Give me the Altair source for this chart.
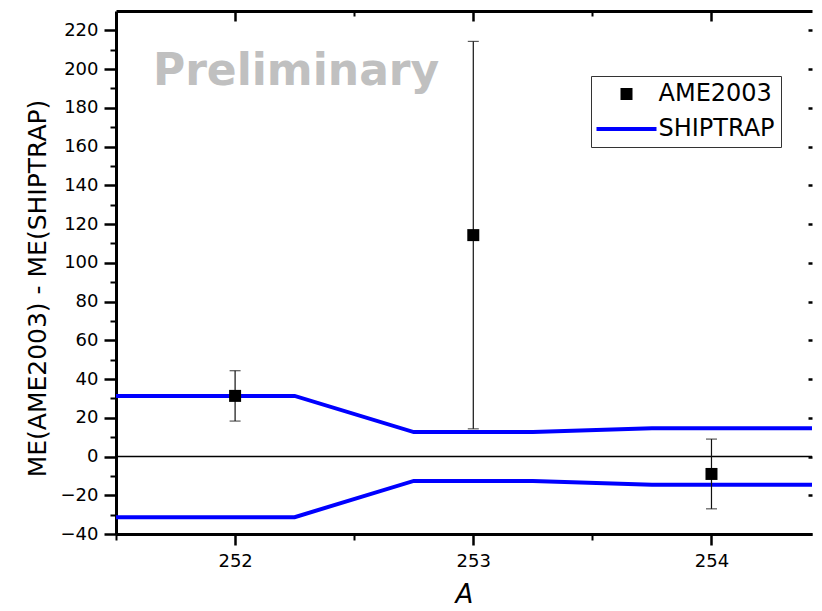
import altair as alt
import pandas as pd

# ---------------- data ----------------
ame_A = [252, 253, 254]
ame_value = [31.3, 114.3, -9.0]
ame_error = [13.0, 100.0, 18.0]

ship_A = [251.5, 252.25, 252.75, 253.25, 253.75, 254.5]
ship_unc = [31.3, 31.3, 12.6, 12.6, 14.6, 14.6]

zero_level = [0]

x_domain = [251.5, 254.422]
y_domain = [-40, 230]
x_major = [252, 253, 254]
x_minor = [251.5, 252.5, 253.5]
x_top_minor = [252.5, 253.5]
y_major = list(range(-40, 221, 20))
y_minor = list(range(-30, 211, 20))

series_names = ["AME2003", "SHIPTRAP"]
series_colors = ["black", "blue"]

watermark_text = ["Preliminary"]
watermark_A = [251.655]
watermark_y = [192]

# ---------------- tables ----------------
pts = pd.DataFrame({
    "A": ame_A,
    "value": ame_value,
    "lo": [v - e for v, e in zip(ame_value, ame_error)],
    "hi": [v + e for v, e in zip(ame_value, ame_error)],
    "series": ["AME2003"] * len(ame_A),
})
caps = pd.DataFrame({
    "A": ame_A + ame_A,
    "cap": list(pts["lo"]) + list(pts["hi"]),
})
band = pd.DataFrame({
    "A": ship_A + ship_A,
    "y": ship_unc + [-u for u in ship_unc],
    "band": ["upper"] * len(ship_A) + ["lower"] * len(ship_A),
})
zero_df = pd.DataFrame({"y": zero_level})
wm = pd.DataFrame({"A": watermark_A, "y": watermark_y, "label": watermark_text})

W, H = 696, 523
FONT = "DejaVu Sans"

xs = alt.Scale(domain=x_domain, nice=False, zero=False)
ys = alt.Scale(domain=y_domain, nice=False, zero=False)

common = dict(grid=False, tickColor="black", domainColor="black")

ax_y_major = alt.Axis(
    orient="left", values=y_major, tickSize=12, tickWidth=2.5, domainWidth=3,
    labelFont=FONT, labelFontSize=18, labelColor="black", labelPadding=6,
    title="ME(AME2003) - ME(SHIPTRAP)", titleFont=FONT, titleFontSize=25,
    titleFontWeight="normal", titleColor="black", titlePadding=10, titleY=277,
    **common)
ax_y_minor = alt.Axis(orient="left", values=y_minor, tickSize=6, tickWidth=2,
                      domain=False, labels=False, title=None, **common)
ax_y_right = alt.Axis(orient="left", offset=-W, values=y_major, tickSize=4,
                      tickWidth=2.5, domain=False, labels=False, title=None, **common)

ax_x_major = alt.Axis(
    orient="bottom", values=x_major, format="d", tickSize=11, tickWidth=2.5,
    domainWidth=3, labelFont=FONT, labelFontSize=18, labelColor="black",
    labelPadding=7, title="A", titleFont=FONT, titleFontSize=26,
    titleFontStyle="italic", titleFontWeight="normal", titleColor="black",
    titlePadding=11, **common)
ax_x_minor = alt.Axis(orient="bottom", values=x_minor, tickSize=6, tickWidth=2,
                      domain=False, labels=False, title=None, **common)
ax_x_top = alt.Axis(orient="bottom", offset=-H, values=x_major, tickSize=10,
                    tickWidth=2.5, domainWidth=3, labels=False, title=None, **common)
ax_x_top_minor = alt.Axis(orient="bottom", offset=-H, values=x_top_minor,
                          tickSize=5, tickWidth=2, domain=False, labels=False,
                          title=None, **common)

legend = alt.Legend(
    title=None, orient="none", legendX=475, legendY=65, direction="vertical",
    padding=6, strokeColor="#333333", fillColor="white",
    labelFont=FONT, labelFontSize=24, labelColor="black",
    symbolSize=144, symbolStrokeWidth=4,
    symbolType=alt.ExprRef(expr="datum.value === 'SHIPTRAP' ? 'M-5,0H5' : 'M-1,-1H1V1H-1Z'"),
    symbolStrokeColor=alt.ExprRef(expr="datum.value === 'SHIPTRAP' ? 'blue' : 'transparent'"),
    symbolOffset=17.5, labelOffset=20, rowPadding=9, symbolOpacity=1,
)

text = alt.Chart(wm).mark_text(
    align="left", baseline="alphabetic", font=FONT, fontSize=44,
    fontWeight="bold", color="#c0c0c0",
).encode(
    x=alt.X("A:Q", scale=xs, axis=None),
    y=alt.Y("y:Q", scale=ys, axis=None),
    text="label:N",
)

zero = alt.Chart(zero_df).mark_rule(color="black", strokeWidth=1.5).encode(
    y=alt.Y("y:Q", scale=ys, axis=None),
)

lines = alt.Chart(band).mark_line(color="blue", strokeWidth=4, clip=True).encode(
    x=alt.X("A:Q", scale=xs, axis=ax_x_major),
    y=alt.Y("y:Q", scale=ys, axis=ax_y_major),
    detail="band:N",
)

errs = alt.Chart(pts).mark_rule(color="#111111", strokeWidth=1.2).encode(
    x=alt.X("A:Q", scale=xs, axis=ax_x_top),
    y=alt.Y("lo:Q", scale=ys, axis=ax_y_right),
    y2="hi:Q",
)

capmarks = alt.Chart(caps).mark_tick(
    orient="horizontal", size=11, thickness=1.2, color="#111111"
).encode(
    x=alt.X("A:Q", scale=xs, axis=ax_x_top_minor),
    y=alt.Y("cap:Q", scale=ys, axis=None),
)

points = alt.Chart(pts).mark_square(size=144, filled=True, opacity=1).encode(
    x=alt.X("A:Q", scale=xs, axis=ax_x_minor),
    y=alt.Y("value:Q", scale=ys, axis=ax_y_minor),
    color=alt.Color("series:N",
                    scale=alt.Scale(domain=series_names, range=series_colors),
                    legend=legend),
)

chart = (
    alt.layer(text, zero, lines, errs, capmarks, points)
    .resolve_scale(x="shared", y="shared")
    .resolve_axis(x="independent", y="independent")
    .properties(width=W, height=H,
                padding={"left": 17, "top": 1, "right": 0, "bottom": 0})
    .configure_view(stroke=None)
)

chart.save("out.html", embed_options={"renderer": "svg", "actions": False})
